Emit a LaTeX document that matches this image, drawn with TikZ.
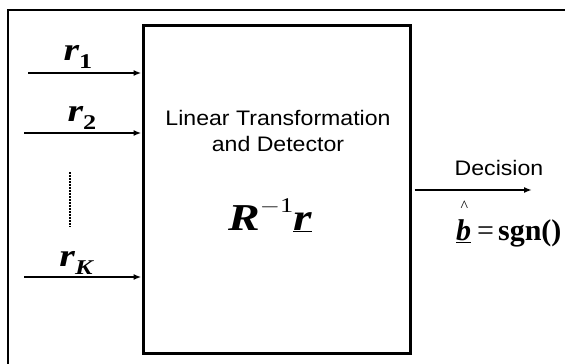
\documentclass[tikz,border=0pt]{standalone}
\usepackage{fontspec}
\usetikzlibrary{arrows.meta}
\setmainfont{Liberation Sans}
\newfontfamily\tnr{Liberation Serif}
\newcommand{\sym}[1]{{\tnr\bfseries\itshape #1}}
\newcommand{\sub}[1]{\raisebox{-0.28em}{\tnr\bfseries\fontsize{21}{21}\selectfont #1}}
\newcommand{\wide}[1]{\scalebox{1.25}[1]{#1}}
\tikzset{
  sig/.style={line width=2.6pt, -{Latex[length=8pt,width=6pt]}},
  lbl/.style={anchor=base, inner sep=0pt, font=\fontsize{32}{32}\selectfont},
}
\begin{document}
\begin{tikzpicture}[x=1pt, y=-1pt]
\useasboundingbox (0,0) rectangle (565,364);
% frame (top and left only)
\draw[line width=2pt] (8,364) -- (8,10) -- (565,10);
\node[draw, line width=3pt, minimum width=267pt, minimum height=328pt, inner sep=0pt] (ltd) at (276.5,189) {};
\node[align=center, font=\fontsize{21}{26}\selectfont, inner sep=0pt] (ltdtxt) at (278,131)
  {\scalebox{1.1}[1]{\textbf{}Linear Transformation}\\\scalebox{1.1}[1]{and Detector}};
\node[lbl, font=\fontsize{38}{38}\selectfont] (rinv) at (270,230)
  {\wide{\sym{R}\raisebox{0.45em}{\tnr\fontsize{21}{21}\selectfont $-$1}\sym{\underline{r}}}};
% inputs
\coordinate (in1) at (28,73);
\coordinate (in2) at (24,133);
\coordinate (inK) at (24,277);
\draw[sig] (in1) -- (in1 -| ltd.west);
\draw[sig, line width=1.8pt] (in2) -- (in2 -| ltd.west);
\draw[sig] (inK) -- (inK -| ltd.west);
\node[lbl] (r1) at (78,60) {\wide{\sym{r}\sub{1}}};
\node[lbl] (r2) at (82,121) {\wide{\sym{r}\sub{2}}};
\node[lbl] (rK) at (76,266) {\wide{\sym{r}\sub{\itshape K}}};
\coordinate (dtop) at (70,172);
\coordinate (dbot) at (70,227);
\draw[line width=2pt, dash pattern=on 2pt off 1pt] (dtop) -- (dbot);
% output
\coordinate (out) at (532,190);
\draw[line width=1.8pt, -{Latex[length=8pt,width=6pt]}] (out -| ltd.east) ++(3,0) -- (out);
\node[anchor=base, inner sep=0pt, font=\fontsize{21}{21}\selectfont] (dec) at (499,175) {\scalebox{1.1}[1]{Decision}};
\node[anchor=base west, inner sep=0pt, font=\fontsize{30}{30}\selectfont] (bhat) at (456,240)
  {\makebox[0pt][l]{\hspace{0.15em}\raisebox{0.95em}{\tnr\fontsize{16}{16}\selectfont\^{}}}\sym{\underline{b}}\hspace{6pt}{\tnr =}\hspace{4pt}{\tnr\bfseries sgn()}};
\end{tikzpicture}
\end{document}
